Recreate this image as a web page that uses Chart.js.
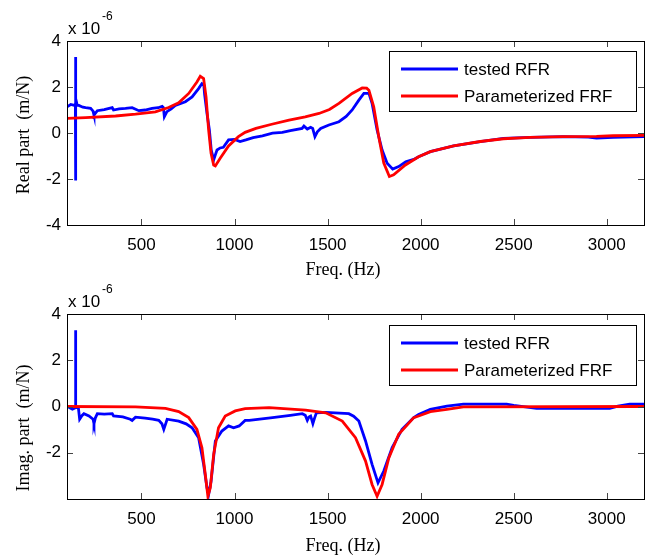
<!DOCTYPE html>
<html lang="en">
<head>
<meta charset="UTF-8">
<script src="https://cdn.jsdelivr.net/npm/chart.js"></script>
<title>FRF real / imag</title>
<style>
    body { margin: 0; background: #fff; }
    .wrap { position: relative; width: 648px; height: 560px; }
    canvas { position: absolute; left: 0; }
</style>
</head>
<body>
<div class="wrap">
    <canvas id="realChart" width="648" height="280" style="top:0"></canvas>
    <canvas id="imagChart" width="648" height="280" style="top:280px"></canvas>
</div>
<script>
// axis ticks
const freqTicks = [500, 1000, 1500, 2000, 2500, 3000];
const ampTicks = [-4, -2, 0, 2, 4];
const legendLabels = ['tested RFR', 'Parameterized FRF'];

// real part, tested (blue), values x 1e-6 m/N
const realTestedFreq = [100, 120, 140, 145, 146, 146.5, 147, 155, 164, 185, 200, 227, 240, 245, 252, 263, 300, 343, 350, 380,
    414, 450, 486, 520, 557, 590, 611, 618, 623, 637, 660, 682, 736, 772, 807, 825, 835, 839, 852, 865,
    875, 888, 897, 906, 923, 940, 968, 1000, 1030, 1061, 1100, 1150, 1204, 1257, 1300, 1363, 1373, 1391, 1409, 1420,
    1432, 1445, 1463, 1507, 1561, 1600, 1632, 1668, 1695, 1722, 1739, 1766, 1793, 1820, 1850, 1882, 1920, 1963, 1989, 2052,
    2177, 2320, 2445, 2588, 2766, 2900, 2945, 3034, 3200];
const realTested = [1.14, 1.24, 1.2, 1.25, 3.3, -2.07, 1.5, 1.2, 1.2, 1.12, 1.1, 1.07, 0.95, 0.78, 0.85, 0.97, 1.02, 1.1, 1.0, 1.05,
    1.07, 1.1, 0.97, 1.0, 1.07, 1.1, 1.16, 1.1, 0.71, 0.93, 1.05, 1.2, 1.36, 1.57, 1.93, 2.15, 2.1, 1.7, 0.85, 0.13,
    -0.74, -1.17, -0.95, -0.74, -0.65, -0.62, -0.3, -0.28, -0.37, -0.3, -0.2, -0.12, -0.01, 0.03, 0.1, 0.2, 0.3, 0.17, 0.25, 0.2,
    -0.16, 0.05, 0.2, 0.35, 0.49, 0.72, 1.0, 1.43, 1.72, 1.72, 1.29, 0.13, -0.74, -1.31, -1.57, -1.46, -1.25, -1.15, -1.03, -0.81,
    -0.56, -0.37, -0.23, -0.19, -0.16, -0.18, -0.22, -0.19, -0.16];

// real part, parameterized (red)
const realParamFreq = [100, 200, 361, 468, 575, 646, 700, 754, 798, 816, 834, 847, 861, 874, 888, 897, 923, 968, 1021, 1057,
    1115, 1200, 1293, 1380, 1454, 1510, 1561, 1632, 1686, 1710, 1722, 1748, 1775, 1802, 1832, 1855, 1918, 1989, 2052, 2177,
    2320, 2445, 2588, 2766, 2945, 3034, 3200];
const realParam = [0.64, 0.67, 0.74, 0.82, 0.92, 1.11, 1.31, 1.72, 2.22, 2.47, 2.37, 1.57, 0.13, -0.88, -1.39, -1.43, -1.1, -0.56, -0.16, 0.03,
    0.2, 0.38, 0.56, 0.7, 0.85, 1.02, 1.29, 1.72, 1.96, 1.95, 1.86, 1.14, -0.16, -1.31, -1.89, -1.82, -1.39, -1.03, -0.81, -0.56,
    -0.37, -0.25, -0.19, -0.16, -0.15, -0.12, -0.1];

// imaginary part, tested (blue)
const imagTestedFreq = [100, 120, 129, 145, 146, 147, 161, 168, 180, 191, 218, 240, 245, 252, 263, 300, 343, 350, 400, 440,
    450, 468, 520, 560, 593, 610, 620, 630, 638, 700, 740, 772, 807, 834, 852, 861, 874, 897, 932, 968,
    995, 1025, 1057, 1079, 1204, 1300, 1364, 1380, 1391, 1400, 1409, 1421, 1430, 1440, 1490, 1614, 1640, 1668, 1704, 1739,
    1771, 1802, 1847, 1900, 1963, 1989, 2052, 2141, 2230, 2462, 2500, 2623, 3016, 3060, 3123, 3200];
const imagTested = [0.02, -0.08, -0.12, -0.05, 3.3, 0.0, -0.05, -0.55, -0.4, -0.31, -0.41, -0.55, -0.74, -0.5, -0.31, -0.33, -0.31, -0.41, -0.45, -0.55,
    -0.6, -0.46, -0.5, -0.55, -0.6, -0.75, -0.99, -0.75, -0.55, -0.63, -0.75, -0.92, -1.35, -2.5, -3.51, -3.8, -3.23, -1.49, -1.06, -0.84,
    -0.92, -0.84, -0.6, -0.6, -0.48, -0.38, -0.31, -0.38, -0.6, -0.45, -0.41, -0.74, -0.5, -0.27, -0.25, -0.31, -0.42, -0.63, -1.49, -2.5,
    -3.3, -2.79, -1.78, -0.99, -0.48, -0.34, -0.12, 0.02, 0.1, 0.1, 0.05, -0.08, -0.08, 0.02, 0.1, 0.1];

// imaginary part, parameterized (red)
const imagParamFreq = [100, 468, 629, 700, 754, 798, 825, 843, 857, 870, 888, 914, 950, 1004, 1057, 1186, 1382, 1490, 1579, 1650,
    1704, 1739, 1766, 1793, 1829, 1882, 1963, 1989, 2052, 2141, 2230, 3200];
const imagParam = [0.0, -0.02, -0.08, -0.22, -0.48, -0.99, -1.78, -2.94, -3.88, -3.51, -2.07, -0.92, -0.41, -0.19, -0.09, -0.05, -0.16, -0.27, -0.63, -1.35,
    -2.36, -3.37, -3.88, -3.37, -2.22, -1.2, -0.48, -0.41, -0.22, -0.12, -0.02, 0.0];

const BLUE = '#0000ff';
const RED = '#ff0000';

function pts(xs, ys) {
    return xs.map((x, i) => ({ x: x, y: ys[i] }));
}

// draws box, inward ticks, exponent, axis titles and the legend
const decoPlugin = {
    id: 'deco',
    afterDraw(chart, args, opts) {
        const ctx = chart.ctx;
        const a = chart.chartArea;
        const xs = chart.scales.x, ys = chart.scales.y;
        ctx.save();

        // inward tick marks
        ctx.strokeStyle = '#444';
        ctx.lineWidth = 1;
        ctx.beginPath();
        freqTicks.forEach(v => {
            const px = Math.round(xs.getPixelForValue(v)) + 0.5;
            ctx.moveTo(px, a.bottom); ctx.lineTo(px, a.bottom - 6);
            ctx.moveTo(px, a.top); ctx.lineTo(px, a.top + 6);
        });
        ampTicks.forEach(v => {
            const py = Math.round(ys.getPixelForValue(v)) + 0.5;
            ctx.moveTo(a.left, py); ctx.lineTo(a.left + 6, py);
            ctx.moveTo(a.right, py); ctx.lineTo(a.right - 6, py);
        });
        ctx.stroke();

        // frame
        ctx.strokeStyle = '#000';
        ctx.strokeRect(Math.round(a.left) + 0.5, Math.round(a.top) + 0.5,
            Math.round(a.right - a.left), Math.round(a.bottom - a.top));

        // exponent
        ctx.fillStyle = '#000';
        ctx.textAlign = 'left';
        ctx.textBaseline = 'alphabetic';
        ctx.font = '17px "Liberation Sans", Arial, sans-serif';
        ctx.fillText('x 10', a.left + 1, a.top - 7);
        ctx.font = '12px "Liberation Sans", Arial, sans-serif';
        ctx.fillText('-6', a.left + 35, a.top - 21);

        // axis titles
        ctx.font = '18px "Liberation Serif", "Times New Roman", serif';
        ctx.textAlign = 'center';
        ctx.textBaseline = 'middle';
        ctx.fillText('Freq. (Hz)', opts.xTitleX, opts.xTitleY);
        ctx.save();
        ctx.translate(24, opts.yTitleY);
        ctx.rotate(-Math.PI / 2);
        ctx.fillText(opts.yTitle, 0, 0);
        ctx.restore();

        // legend
        const lx = a.right - 255, ly = a.top + opts.legendTop;
        const lw = 247, lh = 60;
        ctx.fillStyle = '#fff';
        ctx.fillRect(lx, ly, lw, lh);
        ctx.strokeStyle = '#000';
        ctx.lineWidth = 1;
        ctx.strokeRect(Math.round(lx) + 0.5, Math.round(ly) + 0.5, lw, lh);
        ctx.font = '17px "Liberation Sans", Arial, sans-serif';
        ctx.textAlign = 'left';
        ctx.textBaseline = 'middle';
        [BLUE, RED].forEach((c, i) => {
            const ry = ly + 18 + i * 27;
            ctx.strokeStyle = c;
            ctx.lineWidth = 3;
            ctx.beginPath();
            ctx.moveTo(lx + 12, ry);
            ctx.lineTo(lx + 69, ry);
            ctx.stroke();
            ctx.fillStyle = '#000';
            ctx.fillText(legendLabels[i], lx + 75, ry + 1);
        });
        ctx.restore();
    }
};

function makeChart(id, tested, param, cfg) {
    return new Chart(document.getElementById(id), {
        type: 'line',
        data: {
            datasets: [
                { label: legendLabels[0], data: tested, borderColor: BLUE, borderWidth: 2.8, pointRadius: 0, tension: 0, order: 2 },
                { label: legendLabels[1], data: param, borderColor: RED, borderWidth: 2.8, pointRadius: 0, tension: 0, order: 1 }
            ]
        },
        options: {
            responsive: false,
            animation: false,
            devicePixelRatio: 1,
            layout: { padding: { left: 0, right: 4, top: cfg.top, bottom: 0 } },
            plugins: {
                legend: { display: false },
                tooltip: { enabled: false },
                deco: cfg.deco
            },
            scales: {
                x: {
                    type: 'linear',
                    min: 100,
                    max: 3200,
                    grid: { display: false, drawTicks: false },
                    border: { display: false },
                    afterBuildTicks: s => { s.ticks = freqTicks.map(v => ({ value: v })); },
                    afterFit: s => { s.height = cfg.xHeight; },
                    ticks: {
                        padding: 10,
                        color: '#000',
                        font: { family: '"Liberation Sans", Arial, sans-serif', size: 17 },
                        callback: v => String(v)
                    }
                },
                y: {
                    min: -4,
                    max: 4,
                    grid: { display: false, drawTicks: false },
                    border: { display: false },
                    afterBuildTicks: s => { s.ticks = ampTicks.map(v => ({ value: v })); },
                    afterFit: s => { s.width = 67; },
                    ticks: {
                        padding: 6,
                        color: '#000',
                        font: { family: '"Liberation Sans", Arial, sans-serif', size: 17 },
                        callback: v => (cfg.hideMin && v === -4) ? '' : String(v)
                    }
                }
            }
        },
        plugins: [decoPlugin]
    });
}

makeChart('realChart', pts(realTestedFreq, realTested), pts(realParamFreq, realParam), {
    top: 41, xHeight: 55, hideMin: false,
    deco: { yTitle: 'Real part  (m/N)', yTitleY: 135, xTitleX: 343, xTitleY: 270, legendTop: 10 }
});

makeChart('imagChart', pts(imagTestedFreq, imagTested), pts(imagParamFreq, imagParam), {
    top: 34, xHeight: 61, hideMin: true,
    deco: { yTitle: 'Imag. part  (m/N)', yTitleY: 148, xTitleX: 343, xTitleY: 266, legendTop: 11 }
});
</script>
</body>
</html>
